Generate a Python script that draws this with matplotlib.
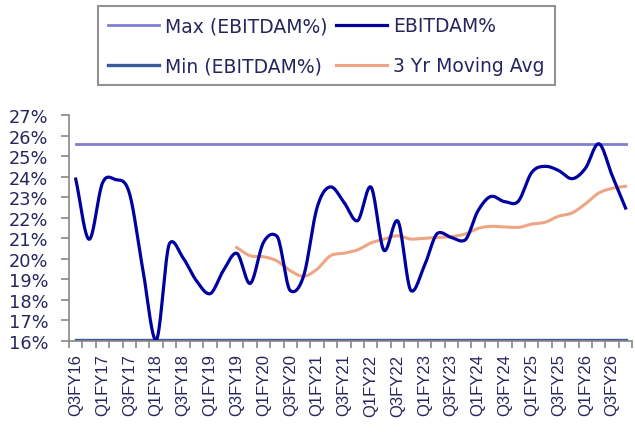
import numpy as np
import matplotlib
matplotlib.use("Agg")
from matplotlib import pyplot as plt

# quarters Q3FY16 .. Q4FY26
quarters = []
for fy in range(16, 27):
    for q in (1, 2, 3, 4):
        if fy == 16 and q < 3:
            continue
        quarters.append(f"Q{q}FY{fy}")

ebitdam = [23.88, 20.95, 23.7, 23.85, 23.2, 19.5, 16.05, 20.75, 20.05, 18.93,
           18.3, 19.42, 20.27, 18.8, 20.8, 21.1, 18.45, 19.18, 22.5, 23.5,
           22.75, 21.85, 23.5, 20.4, 21.85, 18.45, 19.66, 21.25, 21.04, 20.9,
           22.34, 23.04, 22.78, 22.8, 24.2, 24.5, 24.3, 23.9, 24.4, 25.6,
           24.05, 22.47]

moving_avg = [20.55, 20.15, 20.1, 19.9, 19.42, 19.15, 19.5, 20.15, 20.27, 20.43,
              20.77, 20.96, 21.12, 20.96, 21.0, 21.04, 21.08, 21.2, 21.48, 21.58,
              21.55, 21.53, 21.69, 21.78, 22.07, 22.23, 22.67, 23.2, 23.43, 23.53]
ma_start = 12

max_val = 25.6
min_val = 16.05

text_color = "#26265e"


def smooth(y, steps=20):
    """Catmull-Rom style curve through the points (tangents damped at
    peaks/troughs so it doesn't overshoot too much)."""
    y = np.asarray(y, float)
    m = np.zeros_like(y)
    m[1:-1] = (y[2:] - y[:-2]) / 2
    m[0] = y[1] - y[0]
    m[-1] = y[-1] - y[-2]
    for i in range(1, len(y) - 1):
        if (y[i] - y[i - 1]) * (y[i + 1] - y[i]) <= 0:
            m[i] *= 0.5
    t = np.linspace(0, 1, steps, endpoint=False)
    h00 = 2 * t ** 3 - 3 * t ** 2 + 1
    h10 = t ** 3 - 2 * t ** 2 + t
    h01 = -2 * t ** 3 + 3 * t ** 2
    h11 = t ** 3 - t ** 2
    xs, ys = [], []
    for i in range(len(y) - 1):
        xs.extend(i + t)
        ys.extend(h00 * y[i] + h10 * m[i] + h01 * y[i + 1] + h11 * m[i + 1])
    xs.append(len(y) - 1)
    ys.append(y[-1])
    return np.array(xs), np.array(ys)


fig = plt.figure(figsize=(6.35, 4.39), dpi=100)
ax = fig.add_axes([0.1087, 0.221, 0.8870, 0.5148])

n = len(quarters)
xi = np.arange(n)

l_max, = ax.plot([0, n - 1], [max_val, max_val], color="#7f7fd0", lw=2.0,
                 label="Max (EBITDAM%)")
l_min, = ax.plot([0, n - 1], [min_val, min_val], color="#3a5a9e", lw=2.4,
                 label="Min (EBITDAM%)")
sx, sy = smooth(moving_avg)
l_ma, = ax.plot(sx + ma_start, sy, color="#eea584", lw=2.2, label="3 Yr Moving Avg")
sx, sy = smooth(ebitdam)
l_eb, = ax.plot(sx, sy, color="#0000a0", lw=2.3, label="EBITDAM%")

ax.set_xlim(-0.5, n - 0.5)
ax.set_ylim(16, 27)
ax.set_yticks(range(16, 28))
ax.set_yticklabels([f"{v}%" for v in range(16, 28)], fontsize=12.8,
                   color=text_color, family="DejaVu Sans")
ax.set_xticks(xi[::2])
ax.set_xticklabels(quarters[::2], rotation=90, fontsize=12, color=text_color,
                   family="Liberation Sans")
ax.set_xticks(np.arange(n + 1) - 0.5, minor=True)
ax.tick_params(axis="x", which="major", length=0, pad=9)
ax.tick_params(axis="x", which="minor", length=5, color="#888888", width=1.2)
ax.tick_params(axis="y", length=6, color="#888888", width=1.2, pad=9)

for side in ("top", "right"):
    ax.spines[side].set_visible(False)
for side in ("left", "bottom"):
    ax.spines[side].set_color("#888888")
    ax.spines[side].set_linewidth(1.2)

leg = fig.legend([l_max, l_min, l_eb, l_ma],
                 ["Max (EBITDAM%)", "Min (EBITDAM%)", "EBITDAM%", "3 Yr Moving Avg"],
                 ncol=2, loc="upper center", bbox_to_anchor=(0.514, 1.005),
                 fancybox=False, handlelength=2.7, labelspacing=1.1,
                 columnspacing=0.45, handletextpad=0.35, borderpad=0.55,
                 prop={"family": "DejaVu Sans", "size": 13.5})
leg.get_frame().set_edgecolor("#777777")
leg.get_frame().set_linewidth(1.5)
for txt in leg.get_texts():
    txt.set_color(text_color)

fig.savefig("out.png", dpi=100)
